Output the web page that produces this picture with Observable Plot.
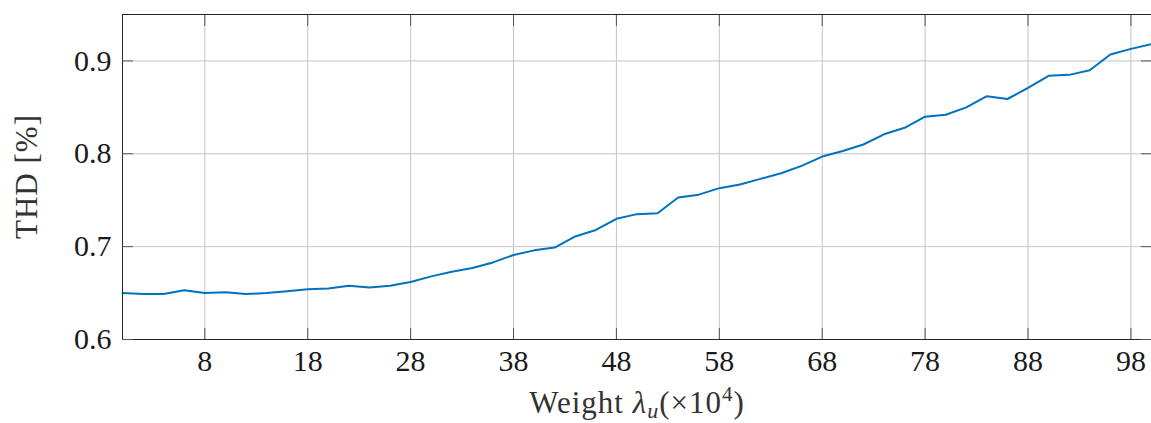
<!DOCTYPE html>
<html>
<head>
<meta charset="utf-8">
<script src="https://cdn.jsdelivr.net/npm/d3@7"></script>
<script src="https://cdn.jsdelivr.net/npm/@observablehq/plot@0.6"></script>
<style>
  html, body { margin: 0; padding: 0; background: #fff; }
  svg { display: block; }
</style>
</head>
<body>
<div id="chart"></div>
<script>
const weights = [0,2,4,6,8,10,12,14,16,18,20,22,24,26,28,30,32,34,36,38,40,42,44,46,48,50,52,54,56,58,60,62,64,66,68,70,72,74,76,78,80,82,84,86,88,90,92,94,96,98,100];
const thd = [0.650,0.649,0.649,0.653,0.650,0.651,0.649,0.650,0.652,0.654,0.655,0.658,0.656,0.658,0.662,0.668,0.673,0.677,0.683,0.691,0.696,0.699,0.711,0.718,0.730,0.735,0.736,0.753,0.756,0.763,0.767,0.773,0.779,0.787,0.797,0.803,0.810,0.821,0.828,0.840,0.842,0.850,0.862,0.859,0.871,0.884,0.885,0.890,0.907,0.913,0.918];
const xTicks = [8,18,28,38,48,58,68,78,88,98];
const yTicks = [0.6,0.7,0.8,0.9];
const yGrid = [0.7,0.8,0.9];

const data = weights.map((w, i) => ({w, v: thd[i]}));
const font = '"Liberation Serif", serif';

const chart = Plot.plot({
  width: 1151,
  height: 423,
  marginLeft: 122,
  marginRight: 0,
  marginTop: 14,
  marginBottom: 84,
  style: {fontFamily: font, fontSize: "30px", color: "#1a1a1a", background: "#fff"},
  x: {domain: [0, 100], label: null},
  y: {domain: [0.6, 0.95], label: null},
  marks: [
    Plot.gridX(xTicks, {stroke: "#c4c4c4", strokeOpacity: 1, strokeWidth: 1}),
    Plot.gridY(yGrid, {stroke: "#c4c4c4", strokeOpacity: 1, strokeWidth: 1}),
    Plot.line(data, {x: "w", y: "v", stroke: "#0072BD", strokeWidth: 2}),
    Plot.frame({stroke: "#262626", strokeWidth: 1}),
    Plot.axisX(xTicks, {anchor: "bottom", tickSize: -11, tickPadding: 21, stroke: "#555", label: null, fontSize: 30, fontFamily: font}),
    Plot.axisX(xTicks, {anchor: "top", tickSize: -11, text: null, stroke: "#555", label: null}),
    Plot.axisY(yTicks, {anchor: "left", tickSize: -11, tickPadding: 22, stroke: "#555", tickFormat: d3.format(".1f"), label: null, fontSize: 30, fontFamily: font}),
    Plot.axisY(yTicks, {anchor: "right", tickSize: -11, text: null, stroke: "#555", label: null})
  ]
});

document.getElementById("chart").appendChild(chart);

const svg = d3.select(chart);
// x-axis label
const xl = svg.append("text")
  .attr("x", 637).attr("y", 413)
  .attr("text-anchor", "middle")
  .style("font-family", font)
  .style("letter-spacing", "1px")
  .attr("font-size", 31)
  .attr("fill", "#333");
xl.append("tspan").text("Weight ");
xl.append("tspan").attr("font-style", "italic").text("λ");
xl.append("tspan").attr("font-style", "italic").attr("font-size", 22).attr("dy", 5).text("u");
xl.append("tspan").attr("dy", -5).text("(×10");
xl.append("tspan").attr("font-size", 21).attr("dy", -12).text("4");
xl.append("tspan").attr("dy", 12).text(")");

// y-axis label
svg.append("text")
  .attr("transform", "translate(37,176.5) rotate(-90)")
  .attr("text-anchor", "middle")
  .style("font-family", font)
  .style("letter-spacing", "1px")
  .attr("font-size", 31)
  .attr("fill", "#333")
  .text("THD [%]");
</script>
</body>
</html>
